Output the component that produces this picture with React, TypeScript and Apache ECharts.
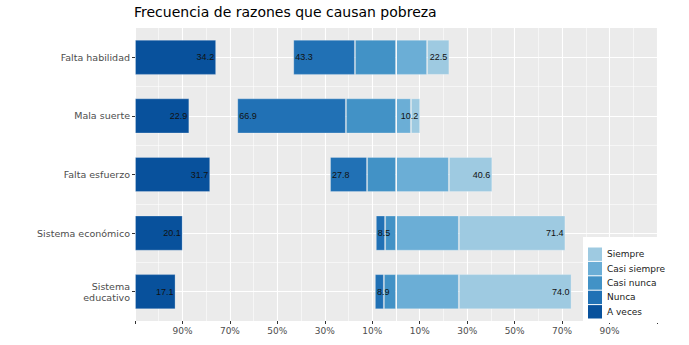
import React, { useEffect, useRef } from 'react';
import * as echarts from 'echarts';

const categories = ['Falta habilidad', 'Mala suerte', 'Falta esfuerzo', 'Sistema económico', 'Sistema\neducativo'];
const aVeces = [34.2, 22.9, 31.7, 20.1, 17.1];
const nunca = [26.0, 45.8, 15.6, 3.9, 3.8];
const casiNunca = [17.3, 21.1, 12.2, 4.6, 5.1];
const casiSiempre = [13.1, 6.3, 22.3, 26.5, 26.5];
const siempre = [9.4, 3.9, 18.3, 44.9, 47.5];
const legendOrder = ['Siempre', 'Casi siempre', 'Casi nunca', 'Nunca', 'A veces'];
const tickLabels = ['', '90%', '70%', '50%', '30%', '10%', '10%', '30%', '50%', '70%', '90%', ''];
const HALF = 110; // the axis spans -110..110; drawn shifted to 0..220

const colors: Record<string, string> = {
  'Siempre': '#9ecae1',
  'Casi siempre': '#6baed6',
  'Casi nunca': '#4292c6',
  'Nunca': '#2171b5',
  'A veces': '#08519c',
};

const AXIS_FONT = 'DejaVu Sans';
const LABEL_FONT = 'Liberation Sans';

export default function App() {
  const ref = useRef<HTMLDivElement>(null);
  useEffect(() => {
    if (!ref.current) return;
    const chart = echarts.init(ref.current, undefined, { renderer: 'svg' });
    const leftTotals = nunca.map((v, i) => v + casiNunca[i]);
    const rightTotals = casiSiempre.map((v, i) => v + siempre[i]);
    const offset = leftTotals.map((t) => HALF - t);
    const border = { borderColor: 'rgba(255,255,255,0.25)', borderWidth: 1 };
    const barCommon = {
      type: 'bar',
      barWidth: '60%',
      barGap: '-100%',
      yAxisIndex: 0,
      xAxisIndex: 0,
    };
    const labelStyle = { fontFamily: LABEL_FONT, fontSize: 9, color: '#111111' };
    const option: any = {
      animation: false,
      backgroundColor: '#ffffff',
      title: {
        text: 'Frecuencia de razones que causan pobreza',
        left: 134,
        top: 5,
        padding: 0,
        textStyle: { fontFamily: AXIS_FONT, fontSize: 14, fontWeight: 'normal', color: '#000000' },
      },
      grid: {
        left: 135,
        top: 28,
        width: 522,
        height: 293,
        show: true,
        backgroundColor: '#EBEBEB',
        borderWidth: 0,
        containLabel: false,
      },
      legend: {
        orient: 'vertical',
        left: 588,
        top: 247.5,
        padding: 0,
        itemWidth: 14,
        itemHeight: 13.4,
        itemGap: 1,
        icon: 'rect',
        z: 10,
        data: legendOrder,
        itemStyle: { borderWidth: 0 },
        textStyle: { fontFamily: AXIS_FONT, fontSize: 9, lineHeight: 10, color: '#1a1a1a' },
      },
      graphic: [
        {
          type: 'rect',
          z: 8,
          shape: { x: 583, y: 237, width: 110, height: 86 },
          style: { fill: '#ffffff' },
          silent: true,
        },
      ],
      xAxis: {
        type: 'value',
        min: 0,
        max: 2 * HALF,
        interval: 20,
        axisLine: { show: false },
        axisTick: { show: true, length: 3, lineStyle: { color: '#333333', width: 1 } },
        axisLabel: {
          show: true,
          margin: 5,
          fontFamily: AXIS_FONT,
          fontSize: 9,
          color: '#4d4d4d',
          showMinLabel: true,
          showMaxLabel: true,
          formatter: (v: number) => tickLabels[Math.round(v / 20)] ?? '',
        },
        splitLine: { show: true, lineStyle: { color: '#ffffff', width: 1.1 } },
        minorTick: { show: false, splitNumber: 2 },
        minorSplitLine: { show: true, lineStyle: { color: '#ffffff', width: 0.55 } },
      },
      yAxis: [
        {
          type: 'category',
          data: categories,
          inverse: true,
          axisLine: { show: false },
          axisTick: { show: true, alignWithLabel: true, length: 3, lineStyle: { color: '#333333', width: 1 } },
          axisLabel: { margin: 5, fontFamily: AXIS_FONT, fontSize: 9.5, color: '#4d4d4d', lineHeight: 11, align: 'right' },
          splitLine: { show: true, alignWithLabel: true, lineStyle: { color: '#ffffff', width: 1.1 } },
        },
        {
          type: 'category',
          data: categories,
          inverse: true,
          position: 'right',
          axisLine: { show: false },
          axisTick: { show: false },
          axisLabel: { show: false },
          splitLine: { show: true, showMinLine: false, showMaxLine: false, lineStyle: { color: '#ffffff', width: 0.55 } },
        },
      ],
      series: [
        {
          ...barCommon,
          name: 'A veces',
          stack: 'av',
          data: aVeces,
          itemStyle: { color: colors['A veces'], ...border },
          label: {
            show: true,
            position: 'insideRight',
            distance: 2,
            ...labelStyle,
            formatter: (p: any) => Number(p.value).toFixed(1),
          },
        },
        {
          ...barCommon,
          name: 'offset',
          stack: 'main',
          data: offset,
          silent: true,
          itemStyle: { color: 'rgba(0,0,0,0)', borderWidth: 0 },
          label: { show: false },
        },
        {
          ...barCommon,
          name: 'Nunca',
          stack: 'main',
          data: nunca,
          itemStyle: { color: colors['Nunca'], ...border },
          label: {
            show: true,
            position: 'insideLeft',
            distance: 2,
            ...labelStyle,
            formatter: (p: any) => leftTotals[p.dataIndex].toFixed(1),
          },
        },
        {
          ...barCommon,
          name: 'Casi nunca',
          stack: 'main',
          data: casiNunca,
          itemStyle: { color: colors['Casi nunca'], ...border },
        },
        {
          ...barCommon,
          name: 'Casi siempre',
          stack: 'main',
          data: casiSiempre,
          itemStyle: { color: colors['Casi siempre'], ...border },
        },
        {
          ...barCommon,
          name: 'Siempre',
          stack: 'main',
          data: siempre,
          itemStyle: { color: colors['Siempre'], ...border },
          label: {
            show: true,
            position: 'insideRight',
            distance: 2,
            ...labelStyle,
            formatter: (p: any) => rightTotals[p.dataIndex].toFixed(1),
          },
          markLine: {
            silent: true,
            symbol: 'none',
            label: { show: false },
            lineStyle: { color: 'rgba(255,255,255,0.85)', width: 1, type: 'solid' },
            data: [{ xAxis: HALF }],
          },
        },
      ],
    };
    chart.setOption(option);
    return () => chart.dispose();
  }, []);
  return <div ref={ref} style={{ position: 'fixed', left: 0, top: 0, width: 689, height: 345 }} />;
}
